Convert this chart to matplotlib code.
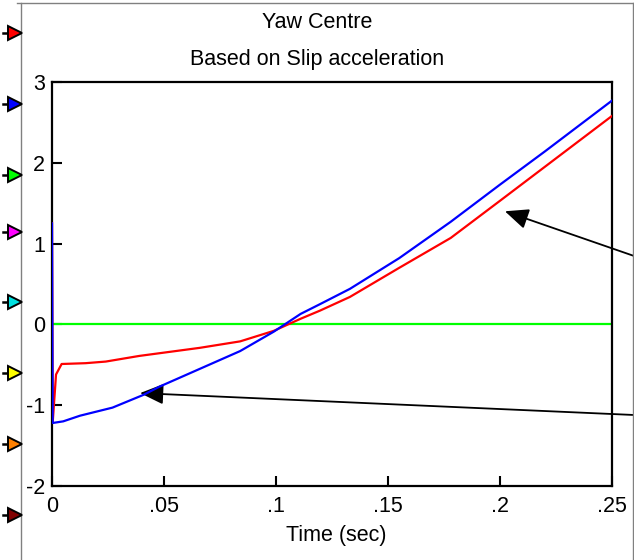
import matplotlib
matplotlib.use("Agg")
import matplotlib.pyplot as plt
from matplotlib.lines import Line2D

plt.rcParams['font.family'] = ['Liberation Sans', 'DejaVu Sans']

# ---- data ----
t_green = [0.0, 0.25]
green = [0.0, 0.0]

t_red = [0.0, 0.0003, 0.0018, 0.0043, 0.015, 0.024, 0.039, 0.066, 0.084, 0.099,
         0.111, 0.1196, 0.133, 0.155, 0.178, 0.2, 0.22, 0.25]
red = [1.25, -1.22, -0.62, -0.49, -0.48, -0.46, -0.39, -0.29, -0.21, -0.08,
       0.07, 0.17, 0.34, 0.70, 1.07, 1.53, 1.95, 2.58]

t_blue = [0.0, 0.0003, 0.005, 0.0125, 0.027, 0.041, 0.048, 0.066, 0.084, 0.099,
          0.111, 0.1196, 0.133, 0.155, 0.178, 0.2, 0.22, 0.25]
blue = [1.25, -1.22, -1.20, -1.13, -1.03, -0.87, -0.77, -0.55, -0.33, -0.09,
        0.13, 0.25, 0.44, 0.82, 1.27, 1.73, 2.14, 2.77]

x_ticks = [0, 0.05, 0.1, 0.15, 0.2, 0.25]
x_ticklabels = ["0", ".05", ".1", ".15", ".2", ".25"]
y_ticks = [-2, -1, 0, 1, 2, 3]
y_ticklabels = ["-2", "-1", "0", "1", "2", "3"]

title1 = "Yaw Centre"
title2 = "Based on Slip acceleration"
xlabel = "Time (sec)"

marker_colors = ["#ff0000", "#0000ff", "#00ff00", "#ff00ff", "#00e0e0",
                 "#ffff00", "#ff8000", "#800000"]
marker_ypix = [33, 104, 175, 232, 302, 373, 444, 515]

# arrow tips in data coords
arrow1_tip = (0.2022, 1.40)
arrow2_tip = (0.0393, -0.85)

W, H = 634, 560
fig = plt.figure(figsize=(W / 100, H / 100), dpi=100)
fig.patch.set_facecolor("white")

def fx(px):
    return px / W

def fy(py):
    return 1 - py / H

FS = 15.5

ax = fig.add_axes([fx(52), fy(486), fx(612) - fx(52), fy(82) - fy(486)])
ax.plot(t_green, green, color="#00ff00", lw=1.6, zorder=2)
ax.plot(t_red, red, color="#ff0000", lw=1.6, zorder=3)
ax.plot(t_blue, blue, color="#0000ff", lw=1.6, zorder=4)

ax.set_xlim(0, 0.25)
ax.set_ylim(-2, 3)
ax.set_xticks(x_ticks)
ax.set_xticklabels(x_ticklabels)
ax.set_yticks(y_ticks)
ax.set_yticklabels(y_ticklabels)
ax.tick_params(axis="both", direction="in", length=7.5, width=1.5,
               labelsize=FS, colors="black")
ax.tick_params(axis="x", pad=7)
ax.tick_params(axis="y", pad=5)
for s in ax.spines.values():
    s.set_linewidth(1.6)
    s.set_color("black")

# titles and label
fig.text(fx(317), fy(22), title1, ha="center", va="center", fontsize=FS)
fig.text(fx(317), fy(60), title2, ha="center", va="center", fontsize=FS)
fig.text(fx(336), fy(535), xlabel, ha="center", va="center", fontsize=FS)

# outer frame (gray)
fig.add_artist(Line2D([fx(20.5), fx(20.5)], [0, fy(3)], color="#808080", lw=1.0,
                      transform=fig.transFigure))
fig.add_artist(Line2D([fx(17), fx(633)], [fy(3), fy(3)], color="#808080", lw=1.0,
                      transform=fig.transFigure))
fig.add_artist(Line2D([fx(633), fx(633)], [0, fy(3)], color="#808080", lw=1.0,
                      transform=fig.transFigure))

# left strip markers
for c, py in zip(marker_colors, marker_ypix):
    fig.add_artist(Line2D([fx(3), fx(11)], [fy(py), fy(py)], color="black", lw=1.8,
                          transform=fig.transFigure))
    fig.add_artist(Line2D([fx(15)], [fy(py)], marker=">", markersize=10.5,
                          markerfacecolor=c, markeredgecolor="black",
                          markeredgewidth=1.4, linestyle="none",
                          transform=fig.transFigure))

# annotation arrows
aprops = dict(arrowstyle="-|>,head_length=0.8,head_width=0.35", mutation_scale=18,
              color="black", lw=1.3, shrinkA=0, shrinkB=0)
ax.annotate("", xy=arrow1_tip, xycoords="data",
            xytext=(fx(650), fy(261.5)), textcoords="figure fraction",
            arrowprops=aprops, annotation_clip=False)
ax.annotate("", xy=arrow2_tip, xycoords="data",
            xytext=(fx(650), fy(415.7)), textcoords="figure fraction",
            arrowprops=aprops, annotation_clip=False)

fig.savefig("out.png", dpi=100)
